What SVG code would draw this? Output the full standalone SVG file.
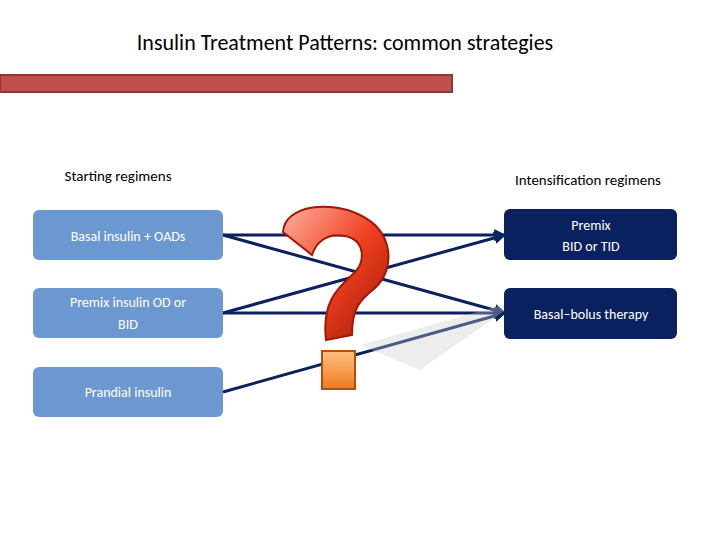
<svg xmlns="http://www.w3.org/2000/svg" width="720" height="540" viewBox="0 0 720 540">
<defs>
<style>
.t{font-family:Calibri,"Liberation Sans",Arial,sans-serif;}
.lbox{fill:#6b98d0;}
.rbox{fill:#0a2160;}
.lt{fill:#fff;font-size:14px;}
.ln{stroke:#0a2160;stroke-width:3;fill:none;}
</style>
<linearGradient id="qg" x1="0" y1="0" x2="1" y2="1"><stop offset="0" stop-color="#ffb0a0"/><stop offset="0.5" stop-color="#f04020"/><stop offset="1" stop-color="#a01808"/></linearGradient>
<linearGradient id="dg" x1="0" y1="0" x2="0" y2="1"><stop offset="0" stop-color="#ffc080"/><stop offset="1" stop-color="#f07a20"/></linearGradient>
<marker id="ah" viewBox="0 0 10 10" refX="9" refY="5" markerWidth="4" markerHeight="4" orient="auto"><path d="M0,0L10,5L0,10z" fill="#0a2160"/></marker>
</defs>
<rect width="720" height="540" fill="#fff"/>
<text class="t" x="345" y="50" text-anchor="middle" font-size="22" fill="#000">Insulin Treatment Patterns: common strategies</text>
<rect x="0" y="75" width="452" height="17" fill="#c0504d" stroke="#8c3836" stroke-width="2"/>
<text class="t" x="118" y="181" text-anchor="middle" font-size="15" fill="#000">Starting regimens</text>
<text class="t" x="588" y="185" text-anchor="middle" font-size="15" fill="#000">Intensification regimens</text>
<g id="connectors">
<line class="ln" x1="223" y1="235" x2="505" y2="235" marker-end="url(#ah)"/>
<line class="ln" x1="223" y1="235" x2="505" y2="313" marker-end="url(#ah)"/>
<line class="ln" x1="223" y1="313" x2="505" y2="235" marker-end="url(#ah)"/>
<line class="ln" x1="223" y1="313" x2="505" y2="313" marker-end="url(#ah)"/>
<line class="ln" x1="223" y1="392" x2="505" y2="313" marker-end="url(#ah)"/>
</g>
<g id="qmark">
<path d="M360,345 L520,300 L420,370 Z" fill="#ccc" opacity="0.35"/>
<path d="M283,232 C285,205 330,200 360,215 C395,232 395,270 375,288 C360,300 352,308 352,335 L326,340 C322,305 335,290 352,275 C367,262 365,240 345,236 C325,232 315,245 312,255 Z" fill="url(#qg)" stroke="#a01808" stroke-width="2"/>
<rect x="322" y="351" width="33" height="38" fill="url(#dg)" stroke="#b05010" stroke-width="2"/>
</g>
<g id="n1"><rect class="lbox" x="33" y="210" width="190" height="50" rx="6"/><text class="t lt" x="128" y="241" text-anchor="middle">Basal insulin  + OADs</text></g>
<g id="n2"><rect class="lbox" x="33" y="288" width="190" height="50" rx="6"/><text class="t lt" x="128" y="307" text-anchor="middle">Premix insulin   OD or</text><text class="t lt" x="128" y="329" text-anchor="middle">BID</text></g>
<g id="n3"><rect class="lbox" x="33" y="367" width="190" height="50" rx="6"/><text class="t lt" x="128" y="397" text-anchor="middle">Prandial insulin</text></g>
<g id="n4"><rect class="rbox" x="504" y="209" width="173" height="51" rx="6"/><text class="t lt" x="591" y="230" text-anchor="middle">Premix</text><text class="t lt" x="591" y="251" text-anchor="middle">BID or TID</text></g>
<g id="n5"><rect class="rbox" x="504" y="288" width="173" height="51" rx="6"/><text class="t lt" x="591" y="319" text-anchor="middle">Basal–bolus therapy</text></g>
</svg>
